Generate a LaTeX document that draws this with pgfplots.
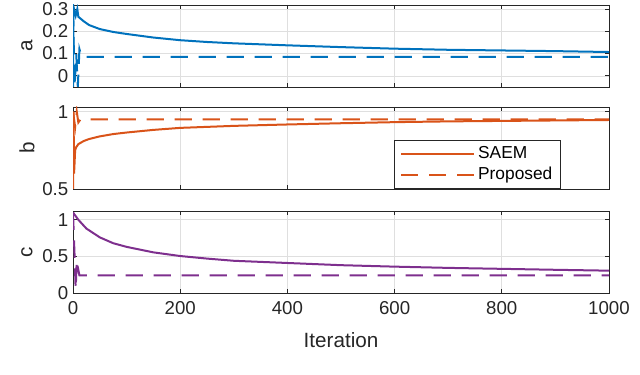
\documentclass[border=0pt]{standalone}
\usepackage{fontspec}
\setmainfont{Liberation Sans}
\usepackage{pgfplots}
\pgfplotsset{compat=1.18}

\definecolor{mblue}{rgb}{0,0.447,0.741}
\definecolor{morange}{rgb}{0.85,0.325,0.098}
\definecolor{mpurple}{rgb}{0.494,0.184,0.556}
\definecolor{axgray}{rgb}{0.15,0.15,0.15}

\pgfplotsset{
  panel/.style={
    scale only axis,
    width=402pt, height=61.5pt,
    anchor=south west,
    xmin=0, xmax=1000,
    xtick={0,200,...,1000},
    tick align=inside,
    major tick length=3pt,
    axis line style={axgray, line width=0.6pt},
    tick style={axgray, line width=0.6pt},
    grid=major,
    major grid style={gray!25, line width=0.5pt},
    /pgf/number format/assume math mode=true,
    ticklabel style={font=\fontsize{14}{16}\selectfont, text=axgray},
    label style={font=\fontsize{15.5}{17}\selectfont, text=axgray},
    xticklabel style={yshift=-2.5pt},
    xlabel style={yshift=-7pt},
    ylabel style={at={(axis description cs:-0.086,0.5)}, anchor=center, rotate=0},
    clip=true,
  },
  sol/.style={line width=1.5pt},
  das/.style={line width=1.5pt, dash pattern=on 13pt off 8pt},
}

\begin{document}
\begin{tikzpicture}
\useasboundingbox (0,0) rectangle (480pt,281.25pt);

% panel a
\begin{axis}[panel, at={(54.75pt,216pt)},
  ymin=-0.05, ymax=0.318, ytick={0,0.1,0.2,0.3},
  yticklabels={0,0.1,0.2,0.3},
  xticklabels={}, ylabel={a}]
\addplot[sol, mblue] coordinates {
(0,-0.05)(1,0.31)(3,0.29)(5,0.27)(8,0.30)(10,0.265)(15,0.255)(20,0.245)
(30,0.228)(50,0.21)(75,0.197)(100,0.188)(150,0.172)(200,0.16)(250,0.152)
(300,0.146)(400,0.137)(500,0.129)(600,0.122)(700,0.117)(800,0.114)
(900,0.111)(1000,0.107)};
\addplot[das, mblue] coordinates {
(0,0.3)(3,-0.05)(6,0.1)(9,-0.05)(12,0.12)(16,0.085)(1000,0.085)};
\end{axis}

% panel b
\begin{axis}[panel, at={(54.75pt,139.5pt)},
  ymin=0.5, ymax=1.03, ytick={0.5,1},
  yticklabels={0.5,1},
  xticklabels={}, ylabel={b},
  legend style={at={(axis description cs:0.91,0.0)}, anchor=south east,
    font=\fontsize{13}{15}\selectfont, draw=axgray, line width=0.6pt,
    inner xsep=4pt, inner ysep=3pt, row sep=1pt},
  legend cell align=left,
  legend image code/.code={\draw[#1] plot coordinates {(0pt,0pt)(55pt,0pt)};}]
\addplot[sol, morange] coordinates {
(0,0.5)(1,1.0)(2,0.6)(4,0.75)(6,0.77)(10,0.79)(20,0.81)(30,0.823)(50,0.84)
(75,0.855)(100,0.865)(150,0.882)(200,0.895)(300,0.908)(400,0.917)(500,0.925)
(600,0.932)(700,0.937)(800,0.94)(900,0.943)(1000,0.946)};
\addlegendentry{SAEM}
\addplot[das, morange] coordinates {
(0,1.0)(4,0.9)(7,1.0)(10,0.93)(14,0.95)(1000,0.95)};
\addlegendentry{Proposed}
\end{axis}

% panel c
\begin{axis}[panel, at={(54.75pt,61.5pt)},
  ymin=0, ymax=1.12, ytick={0,0.5,1},
  yticklabels={0,0.5,1},
  xticklabels={0,200,400,600,800,1000},
  ylabel={c}, xlabel={Iteration}]
\addplot[sol, mpurple] coordinates {
(0,1.1)(5,1.05)(10,1.0)(25,0.88)(50,0.76)(75,0.68)(100,0.63)(150,0.555)
(200,0.505)(250,0.47)(300,0.44)(400,0.41)(500,0.38)(600,0.36)(700,0.343)
(800,0.33)(900,0.317)(1000,0.305)};
\addplot[das, mpurple] coordinates {
(0,1.1)(3,0.5)(5,0.05)(7,0.45)(9,0.35)(12,0.24)(1000,0.24)};
\end{axis}
\end{tikzpicture}
\end{document}
